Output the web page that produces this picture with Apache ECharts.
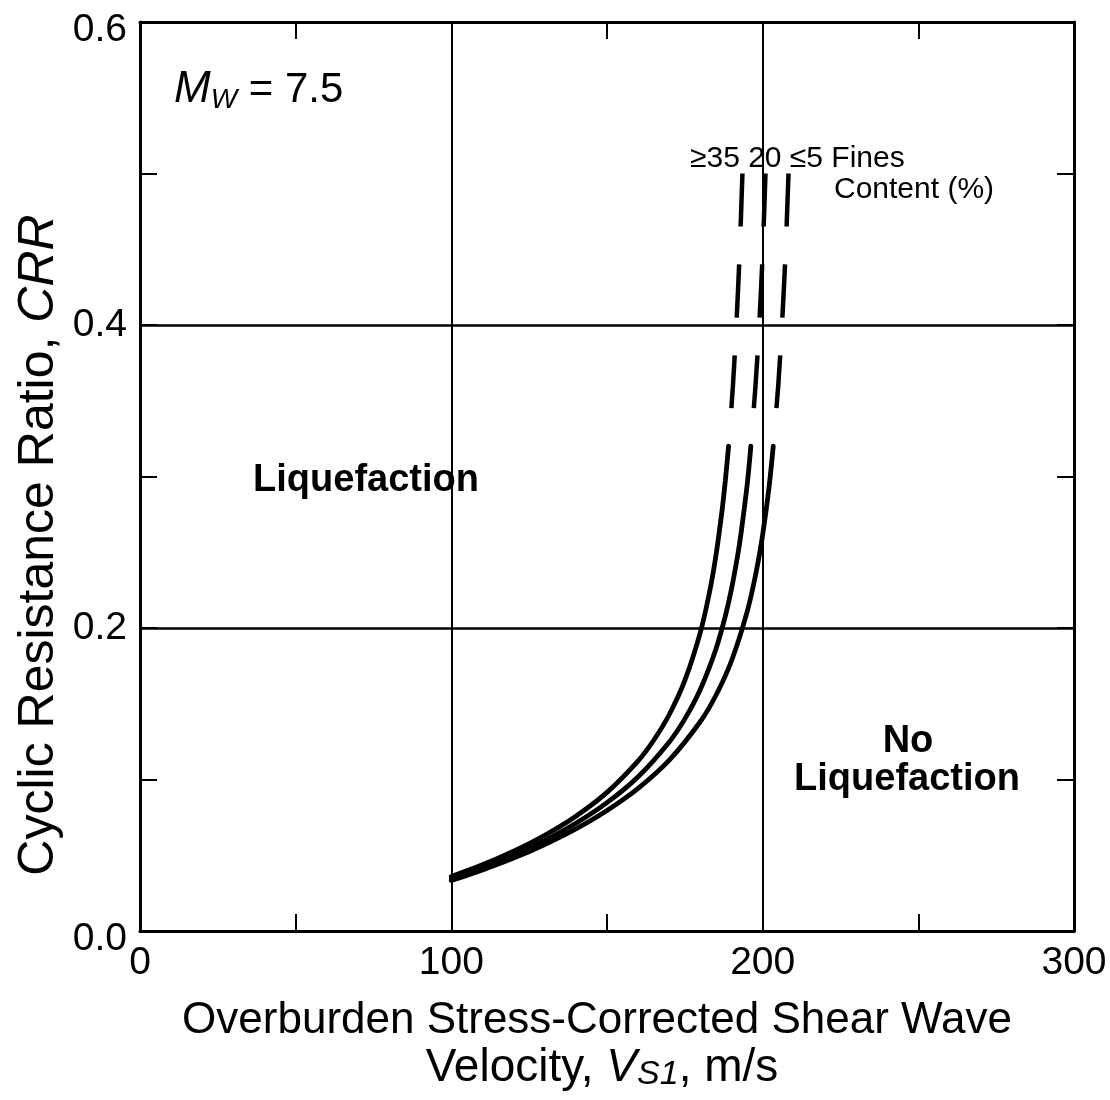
<!DOCTYPE html>
<html>
<head>
<meta charset="utf-8">
<script src="https://cdn.jsdelivr.net/npm/echarts@6/dist/echarts.min.js"></script>
<style>
html,body{margin:0;padding:0;background:#fff;}
#chart{width:1110px;height:1100px;}
</style>
</head>
<body>
<div id="chart"></div>
<script>
// ---- data ----
const xTicks = [0, 100, 200, 300];
const yTicks = [0.0, 0.2, 0.4, 0.6];

// Fines content <= 5 %
const vsSolidFC5  = [100, 110, 120, 130, 140, 150, 160, 170, 180, 185, 190, 195, 198, 200, 202, 203.4];
const crrSolidFC5 = [0.0333, 0.0403, 0.0481, 0.0571, 0.0674, 0.0796, 0.0942, 0.1128, 0.1383, 0.1556, 0.1784, 0.2106, 0.2379, 0.2616, 0.2921, 0.32];
const vsDashFC5   = [208.3, 207.4, 206.2, 205.0, 203.4];

// Fines content 20 %
const vsSolidFC20  = [100, 110, 120, 130, 140, 150, 160, 170, 175, 180, 185, 188, 190, 192, 193, 195, 196.2];
const crrSolidFC20 = [0.0346, 0.0418, 0.0502, 0.0598, 0.0711, 0.0847, 0.1018, 0.1248, 0.1400, 0.1596, 0.1862, 0.2079, 0.2259, 0.2483, 0.2616, 0.2942, 0.32];
const vsDashFC20   = [200.9, 200.05, 198.9, 197.7, 196.2];

// Fines content >= 35 %
const vsSolidFC35  = [100, 110, 120, 130, 140, 150, 160, 165, 170, 175, 180, 183, 185, 187, 188, 189.05];
const crrSolidFC35 = [0.036, 0.0437, 0.0527, 0.0632, 0.0758, 0.0915, 0.1123, 0.1259, 0.1429, 0.1654, 0.1973, 0.2244, 0.248, 0.2783, 0.2971, 0.32];
const vsDashFC35   = [193.5, 192.65, 191.55, 190.45, 189.05];

// CRR levels for the dashed (extrapolated) parts, top to bottom
const crrDash = [0.50, 0.45, 0.40, 0.36, 0.32];

// ---- chart ----
const FF = '"Liberation Sans", Arial, Helvetica, sans-serif';
const zip = (xs, ys) => xs.map((x, i) => [x, ys[i]]);

function solid(name, xs, ys) {
  return {
    name: name, type: 'line', data: zip(xs, ys), showSymbol: false, symbol: 'none',
    smooth: 0.35, silent: true, z: 5,
    lineStyle: { color: '#000', width: 4.8, cap: 'round' }
  };
}
function dashed(name, xs, ys) {
  return {
    name: name, type: 'line', data: zip(xs, ys), showSymbol: false, symbol: 'none',
    smooth: 0.3, silent: true, z: 5,
    lineStyle: { color: '#000', width: 4.5, type: [53, 38], cap: 'butt' }
  };
}

const axisCommon = {
  axisLine: { show: true, onZero: false, lineStyle: { color: '#000', width: 3 } },
  axisTick: { show: true, inside: true, length: 17, lineStyle: { color: '#000', width: 2 } },
  minorTick: { show: true, splitNumber: 2, length: 17, lineStyle: { color: '#000', width: 2 } },
  minorSplitLine: { show: false }
};

const option = {
  backgroundColor: '#fff',
  animation: false,
  grid: { left: 140, right: 36, top: 22, bottom: 169, containLabel: false },
  xAxis: [
    Object.assign({}, axisCommon, {
      type: 'value', position: 'bottom', min: xTicks[0], max: xTicks[xTicks.length - 1], interval: 100,
      splitLine: { show: true, lineStyle: { color: '#000', width: 2 } },
      axisLabel: { show: true, color: '#000', fontSize: 39, fontFamily: FF, margin: 13,
        formatter: v => (xTicks.indexOf(v) >= 0 ? String(v) : '') }
    }),
    Object.assign({}, axisCommon, {
      type: 'value', position: 'top', min: xTicks[0], max: xTicks[xTicks.length - 1], interval: 100,
      splitLine: { show: false }, axisLabel: { show: false }
    })
  ],
  yAxis: [
    Object.assign({}, axisCommon, {
      type: 'value', position: 'left', min: yTicks[0], max: yTicks[yTicks.length - 1], interval: 0.2,
      splitLine: { show: true, lineStyle: { color: '#000', width: 2.5 } },
      axisLabel: { show: true, color: '#000', fontSize: 39, fontFamily: FF, margin: 13,
        formatter: v => (v === yTicks[0] || v === yTicks[yTicks.length - 1]) ? '{e|' + v.toFixed(1) + '}' : v.toFixed(1),
        rich: { e: { fontSize: 39, fontFamily: FF, color: '#000', padding: [16, 0, 0, 0] } } }
    }),
    Object.assign({}, axisCommon, {
      type: 'value', position: 'right', min: yTicks[0], max: yTicks[yTicks.length - 1], interval: 0.2,
      splitLine: { show: false }, axisLabel: { show: false }
    })
  ],
  series: [
    solid('FC<=5', vsSolidFC5, crrSolidFC5),
    dashed('FC<=5 ext', vsDashFC5, crrDash),
    solid('FC=20', vsSolidFC20, crrSolidFC20),
    dashed('FC=20 ext', vsDashFC20, crrDash),
    solid('FC>=35', vsSolidFC35, crrSolidFC35),
    dashed('FC>=35 ext', vsDashFC35, crrDash)
  ],
  graphic: [
    { type: 'text', x: 174, y: 90, z: 10, silent: true,
      style: { text: '{m|M}{s|W}{n| = 7.5}', fill: '#000', align: 'left', verticalAlign: 'middle',
        rich: {
          m: { fontSize: 44, fontStyle: 'italic', fontFamily: FF, lineHeight: 48 },
          s: { fontSize: 28, fontStyle: 'italic', fontFamily: FF, lineHeight: 26, verticalAlign: 'bottom' },
          n: { fontSize: 42, fontFamily: FF, lineHeight: 48 }
        } } },
    { type: 'text', x: 690, y: 159, z: 10, silent: true,
      style: { text: '\u226535 20 \u22645 Fines', fill: '#000', fontSize: 30, fontFamily: FF, align: 'left', verticalAlign: 'middle' } },
    { type: 'text', x: 834, y: 190, z: 10, silent: true,
      style: { text: 'Content (%)', fill: '#000', fontSize: 30, fontFamily: FF, align: 'left', verticalAlign: 'middle' } },
    { type: 'text', x: 366, y: 481, z: 10, silent: true,
      style: { text: 'Liquefaction', fill: '#000', fontSize: 38, fontWeight: 'bold', fontFamily: FF, align: 'center', verticalAlign: 'middle' } },
    { type: 'text', x: 908, y: 742, z: 10, silent: true,
      style: { text: 'No', fill: '#000', fontSize: 38, fontWeight: 'bold', fontFamily: FF, align: 'center', verticalAlign: 'middle' } },
    { type: 'text', x: 907, y: 780, z: 10, silent: true,
      style: { text: 'Liquefaction', fill: '#000', fontSize: 38, fontWeight: 'bold', fontFamily: FF, align: 'center', verticalAlign: 'middle' } },
    { type: 'text', x: 597, y: 1021, z: 10, silent: true,
      style: { text: 'Overburden Stress-Corrected Shear Wave', fill: '#000', fontSize: 44, fontFamily: FF, align: 'center', verticalAlign: 'middle' } },
    { type: 'text', x: 602, y: 1068, z: 10, silent: true,
      style: { text: '{n|Velocity, }{i|V}{s|S1}{n|, m/s}', fill: '#000', align: 'center', verticalAlign: 'middle',
        rich: {
          n: { fontSize: 46, fontFamily: FF, lineHeight: 48 },
          i: { fontSize: 46, fontStyle: 'italic', fontFamily: FF, lineHeight: 48 },
          s: { fontSize: 34, fontStyle: 'italic', fontFamily: FF, lineHeight: 30, verticalAlign: 'bottom' }
        } } },
    { type: 'text', x: 39, y: 545, rotation: Math.PI / 2, z: 10, silent: true,
      style: { text: '{n|Cyclic Resistance Ratio, }{i|CRR}', fill: '#000', align: 'center', verticalAlign: 'middle',
        rich: {
          n: { fontSize: 50, fontFamily: FF },
          i: { fontSize: 50, fontStyle: 'italic', fontFamily: FF }
        } } }
  ]
};

const chart = echarts.init(document.getElementById('chart'), null, { renderer: 'canvas' });
chart.setOption(option);
</script>
</body>
</html>
